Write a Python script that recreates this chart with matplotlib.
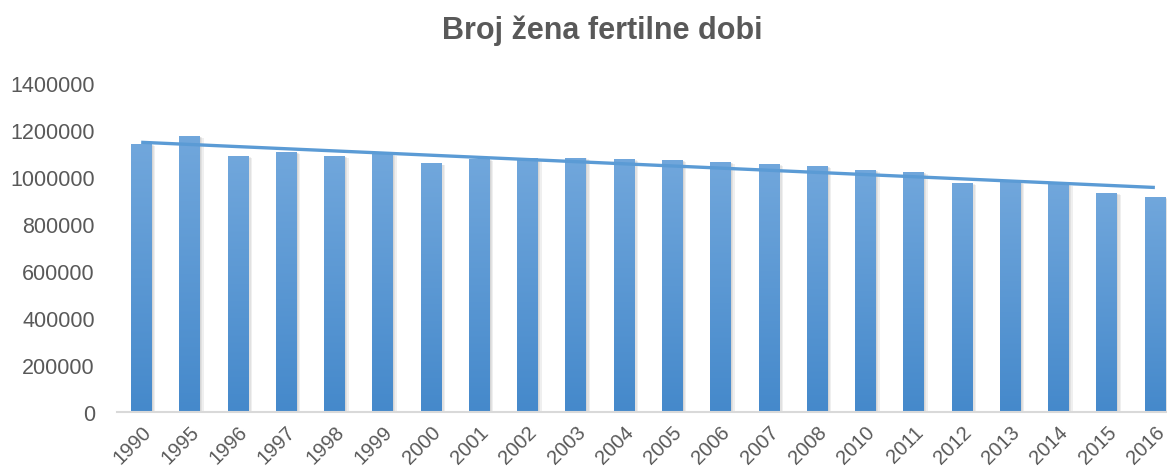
import numpy as np
import matplotlib
matplotlib.use('Agg')
import matplotlib.pyplot as plt
import matplotlib.patheffects as pe

years = ['1990', '1995', '1996', '1997', '1998', '1999', '2000', '2001', '2002', '2003', '2004',
         '2005', '2006', '2007', '2008', '2010', '2011', '2012', '2013', '2014', '2015', '2016']
women = [1140000, 1174000, 1089000, 1106000, 1089000, 1098000, 1059000, 1077000, 1080000, 1082000, 1077000,
         1072000, 1064000, 1055000, 1047000, 1030000, 1021000, 976000, 980000, 970000, 932000, 915000]
yticks = [0, 200000, 400000, 600000, 800000, 1000000, 1200000, 1400000]

plt.rcParams['font.family'] = ['Liberation Sans', 'DejaVu Sans']
grey = '#595959'
blue = '#5B9BD5'

fig = plt.figure(figsize=(11.67, 4.77), dpi=100)
ax = fig.add_axes([0.1003, 0.134, 0.910, 0.690])

x = np.arange(len(years))
# soft shadow: a few faint offset copies
shadow = [pe.SimplePatchShadow(offset=(o, -o * 0.5), shadow_rgbFace='#7f7f7f', alpha=0.12)
          for o in (1.0, 2.0, 3.0)]
bars = ax.bar(x, women, width=0.42, color=blue, zorder=2, path_effects=shadow + [pe.Normal()])

# vertical gradient on each bar (light top, darker bottom)
grad = np.linspace(0, 1, 256).reshape(-1, 1)
cmap = matplotlib.colors.LinearSegmentedColormap.from_list('g', ['#4589CB', '#71A7DC'])
for b in bars:
    bx, by = b.get_x(), b.get_y()
    im = ax.imshow(grad, cmap=cmap, origin='lower', aspect='auto', zorder=2.5,
                   extent=[bx, bx + b.get_width(), by, by + b.get_height()])
    im.set_clip_path(b)

# linear trendline
k, c = np.polyfit(x, women, 1)
ax.plot(x, k * x + c, color=blue, lw=2.4, zorder=3, solid_capstyle='butt')

ax.set_xlim(-0.5, len(years) - 0.5)
ax.set_ylim(0, 1400000)
ax.set_yticks(yticks)
ax.set_yticklabels([str(v) for v in yticks], fontsize=15.5, color=grey)
ax.set_xticks(x)
ax.set_xticklabels(years, rotation=45, ha='right', rotation_mode='anchor', fontsize=14.5, color=grey)
ax.tick_params(length=0)
ax.tick_params(axis='x', pad=7)
ax.tick_params(axis='y', pad=16)
for s in ['top', 'right', 'left']:
    ax.spines[s].set_visible(False)
ax.spines['bottom'].set_color('#D9D9D9')
ax.spines['bottom'].set_linewidth(1.5)
ax.spines['bottom'].set_zorder(4)

fig.text(0.516, 0.935, 'Broj žena fertilne dobi', ha='center', va='center',
         fontsize=22, fontweight='bold', color=grey)

fig.savefig('out.png', dpi=100)
